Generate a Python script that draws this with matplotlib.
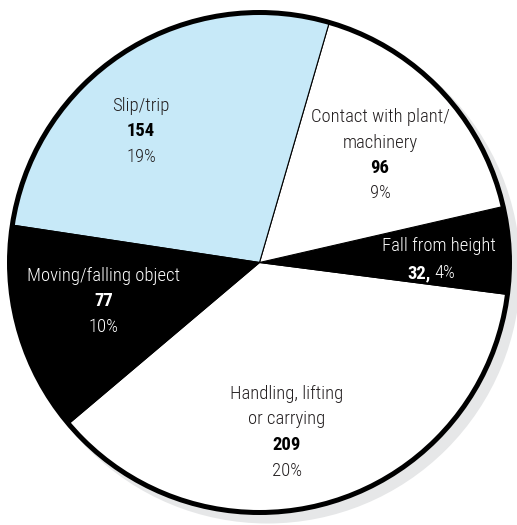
import matplotlib.pyplot as plt
from matplotlib.patches import Circle

# accident types, counts and the printed percentages
labels = ["Handling, lifting\nor carrying", "Fall from height",
          "Contact with plant/\nmachinery", "Slip/trip", "Moving/falling object"]
counts = [209, 32, 96, 154, 77]
pcts = ["20%", "4%", "9%", "19%", "10%"]
colors = ["white", "black", "white", "#c7e9f8", "black"]

W, H = 517, 525
cx, cy, r = 259.5, H - 262.5, 250

plt.rcParams['font.family'] = ['Roboto Condensed', 'Pragati Narrow', 'DejaVu Sans']

fig = plt.figure(figsize=(W / 100, H / 100), dpi=100)
ax = fig.add_axes([0, 0, 1, 1])

# drop shadow
ax.add_patch(Circle((cx + 8, cy - 8), r + 3, color="#e6e7e8", lw=0, zorder=0))

ax.pie(counts, colors=colors, startangle=220.2, counterclock=True,
       center=(cx, cy), radius=r, frame=True,
       wedgeprops=dict(edgecolor="black", linewidth=0.8))
ax.add_patch(Circle((cx, cy), r, fill=False, edgecolor="black", lw=3.6, zorder=5))

ax.set_xlim(0, W)
ax.set_ylim(0, H)
ax.set_aspect("equal")
ax.axis("off")

fs = 13.4
dark = "#231f20"
light = "light"


def block(x, y_top, name, count, pct, color, bold_color, step=25.5):
    y = y_top
    for ln in name.split("\n"):
        ax.text(x, H - y, ln, ha="center", va="center", fontsize=fs, color=color,
                fontweight=light)
        y += step
    ax.text(x, H - y, str(count), ha="center", va="center", fontsize=fs,
            color=bold_color, fontweight="bold")
    y += step
    ax.text(x, H - y, pct, ha="center", va="center", fontsize=fs, color=color,
            fontweight=light)


block(287, 394, labels[0], counts[0], pcts[0], dark, "black")
block(380, 117, labels[2], counts[2], pcts[2], dark, "black")
block(141, 106, labels[3], counts[3], pcts[3], dark, "black")
block(104, 276, labels[4], counts[4], pcts[4], "white", "white")

# fall from height: count and percent share a line
ax.text(439, H - 246, labels[1], ha="center", va="center", fontsize=fs, color="white",
        fontweight=light)
ax.text(431, H - 273, f"{counts[1]},", ha="right", va="center", fontsize=fs,
        color="white", fontweight="bold")
ax.text(434, H - 273, pcts[1], ha="left", va="center", fontsize=fs, color="white",
        fontweight=light)

plt.savefig("out.png", dpi=100)
